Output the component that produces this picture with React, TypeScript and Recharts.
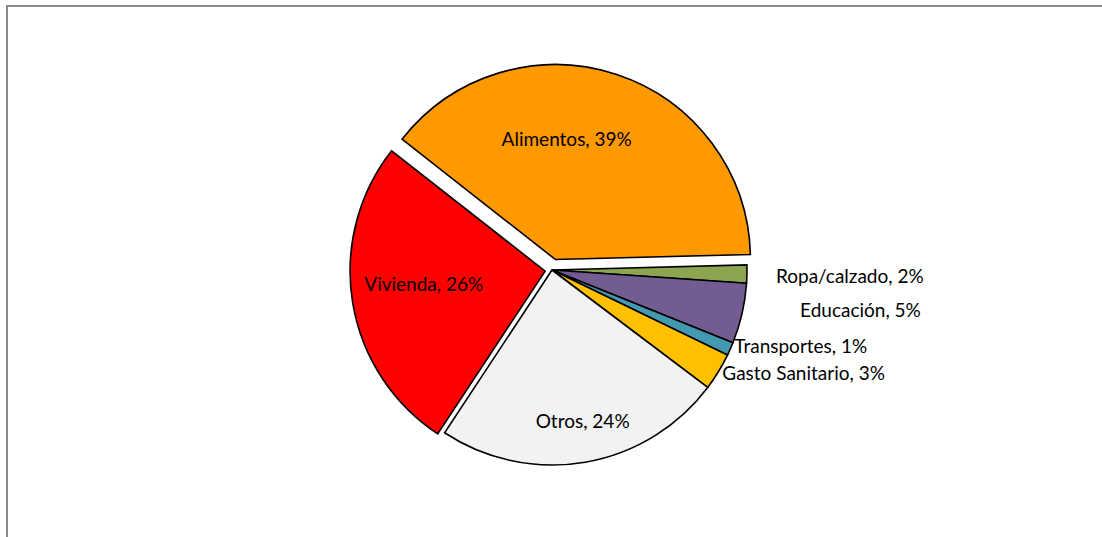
import React from "react";
import { PieChart, Pie, Cell } from "recharts";

const categories = ["Ropa/calzado", "Educación", "Transportes", "Gasto Sanitario", "Otros", "Vivienda", "Alimentos"];
const values = [1.5, 5.0, 1.1, 3.1, 24.0, 26.3, 39.0];
const colors = ["#8CA550", "#725C92", "#4399AF", "#FFC000", "#F2F2F2", "#FF0000", "#FF9900"];
const explode = [0, 0, 0, 0, 0, 7, 11];

const labelLayout = [
  { mode: "out", dx: 29, dy: 1 },
  { mode: "out", dx: 58, dy: -4 },
  { mode: "out", dx: 4, dy: -3 },
  { mode: "out", dx: 4, dy: 1 },
  { mode: "in", r: 154, da: -1.7 },
  { mode: "in", r: 122, da: 3.2 },
  { mode: "in", r: 122, da: -13 },
];

const W = 1102;
const H = 537;
const CX = 552;
const CY = 270;
const R = 195;
const START = 1.5;
const RAD = Math.PI / 180;
const FONT = "Lato, 'DejaVu Sans', sans-serif";
const FONT_SIZE = 19;

const data = categories.map((name, i) => ({ name, value: values[i] }));
const total = values.reduce((a, b) => a + b, 0);

function midAngleOf(i: number) {
  let cum = 0;
  for (let k = 0; k < i; k++) cum += values[k];
  return START - (360 * (cum + values[i] / 2)) / total;
}

function centerOf(i: number) {
  const m = midAngleOf(i);
  const e = explode[i];
  return { x: CX + e * Math.cos(-m * RAD), y: CY + e * Math.sin(-m * RAD) };
}

const renderLabel = (props: any) => {
  const i = props.index;
  const m = midAngleOf(i);
  const c = centerOf(i);
  const lay: any = labelLayout[i];
  const pct = Math.round((values[i] / total) * 100 + 1e-9);
  const text = `${categories[i]}, ${pct}%`;
  let x: number, y: number, anchor: string;
  if (lay.mode === "in") {
    const a = (-m + lay.da) * RAD;
    x = c.x + lay.r * Math.cos(a);
    y = c.y + lay.r * Math.sin(a);
    anchor = "middle";
  } else {
    const a = -m * RAD;
    x = c.x + R * Math.cos(a) + lay.dx;
    y = c.y + R * Math.sin(a) + lay.dy;
    anchor = "start";
  }
  return (
    <text key={`l${i}`} x={x} y={y} textAnchor={anchor} dominantBaseline="central" fill="#000" fontFamily={FONT} fontSize={FONT_SIZE}>
      {text}
    </text>
  );
};

export default function App() {
  const explodedIdx = explode.map((e, i) => (e > 0 ? i : -1)).filter((i) => i >= 0);
  return (
    <div style={{ position: "fixed", left: 0, top: 0, width: W, height: H, background: "#fff" }}>
      <div
        style={{
          position: "absolute",
          left: 6,
          top: 5,
          width: W + 10,
          height: H + 10,
          borderTop: "2px solid #898989",
          borderLeft: "2px solid #898989",
          boxSizing: "border-box",
          pointerEvents: "none",
        }}
      />
      <div style={{ position: "absolute", left: 0, top: 0 }}>
        <PieChart width={W} height={H} margin={{ top: 0, right: 0, bottom: 0, left: 0 }}>
          {explodedIdx.map((k) => {
            const c = centerOf(k);
            return (
              <Pie
                key={`ex${k}`}
                data={data}
                dataKey="value"
                nameKey="name"
                cx={c.x}
                cy={c.y}
                outerRadius={R}
                startAngle={START}
                endAngle={START - 360}
                isAnimationActive={false}
                label={false}
                labelLine={false}
              >
                {data.map((d, i) => (
                  <Cell
                    key={i}
                    fill={i === k ? colors[i] : "none"}
                    stroke={i === k ? "#000" : "none"}
                    strokeWidth={1.6}
                  />
                ))}
              </Pie>
            );
          })}
          <Pie
            data={data}
            dataKey="value"
            nameKey="name"
            cx={CX}
            cy={CY}
            outerRadius={R}
            startAngle={START}
            endAngle={START - 360}
            isAnimationActive={false}
            label={renderLabel}
            labelLine={false}
          >
            {data.map((d, i) => (
              <Cell
                key={i}
                fill={explode[i] > 0 ? "none" : colors[i]}
                stroke={explode[i] > 0 ? "none" : "#000"}
                strokeWidth={1.6}
              />
            ))}
          </Pie>
        </PieChart>
      </div>
    </div>
  );
}
